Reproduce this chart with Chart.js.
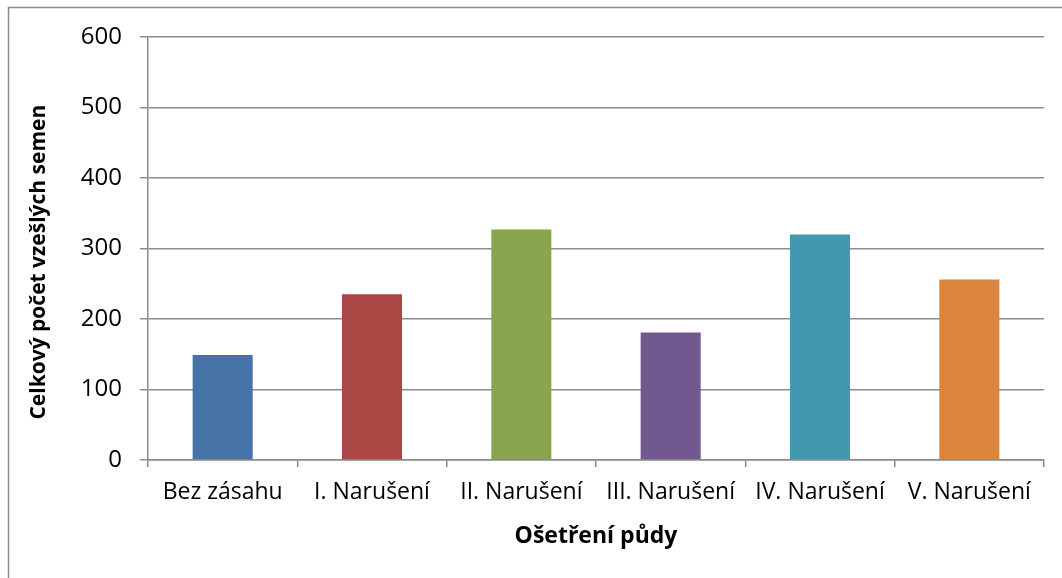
<!DOCTYPE html>
<html>
<head>
<meta charset="utf-8">
<script src="https://cdn.jsdelivr.net/npm/chart.js@4.4.1/dist/chart.umd.min.js"></script>
<style>
    html, body { margin: 0; padding: 0; background: #fff; }
    #wrap { position: relative; width: 1062px; height: 578px; }
</style>
</head>
<body>
<div id="wrap"><canvas id="chart"></canvas></div>
<script>
const categories = ['Bez zásahu', 'I. Narušení', 'II. Narušení', 'III. Narušení', 'IV. Narušení', 'V. Narušení'];
const seedCounts = [149, 235, 327, 181, 320, 256];
const barColors = ['#4572a7', '#aa4643', '#89a54e', '#71588f', '#4198af', '#db843d'];
const yMin = 0;
const yMax = 600;
const yStep = 100;

(function () {
    const axisColor = '#8c8c8c';
    const fontFamily = '"Open Sans", "DejaVu Sans", sans-serif';

    // thin frame round the chart, like the exported picture
    const framePlugin = {
        id: 'frame',
        afterDraw: function (chart) {
            const ctx = chart.ctx;
            ctx.save();
            ctx.strokeStyle = '#8a8a8a';
            ctx.lineWidth = 1.5;
            ctx.beginPath();
            ctx.moveTo(8.5, chart.height);
            ctx.lineTo(8.5, 7.5);
            ctx.lineTo(chart.width, 7.5);
            ctx.stroke();
            ctx.restore();
        }
    };

    new Chart(document.getElementById('chart').getContext('2d'), {
        type: 'bar',
        data: {
            labels: categories.slice(),
            datasets: [
                {
                    label: 'Celkový počet vzešlých semen',
                    data: seedCounts.slice(),
                    backgroundColor: barColors.slice(),
                    borderWidth: 0,
                    barPercentage: 0.402,
                    categoryPercentage: 1
                }
            ]
        },
        options: {
            responsive: true,
            maintainAspectRatio: false,
            animation: false,
            layout: {
                padding: { top: 37, right: 18, bottom: 0, left: 0 }
            },
            plugins: {
                legend: { display: false },
                tooltip: { enabled: false }
            },
            scales: {
                x: {
                    offset: true,
                    grid: {
                        offset: true,
                        drawOnChartArea: false,
                        drawTicks: true,
                        tickLength: 7,
                        color: axisColor,
                        lineWidth: 1.5
                    },
                    border: { color: axisColor, width: 1.5 },
                    ticks: {
                        color: '#000',
                        font: { family: fontFamily, size: 23 },
                        padding: 12,
                        maxRotation: 0,
                        autoSkip: false
                    },
                    title: {
                        display: true,
                        text: 'Ošetření půdy',
                        color: '#000',
                        font: { family: fontFamily, size: 23, weight: 'bold' },
                        padding: { top: 0, bottom: 28 }
                    },
                    afterFit: function (scale) {
                        scale.height = 118;
                    }
                },
                y: {
                    min: yMin,
                    max: yMax,
                    grid: {
                        color: axisColor,
                        lineWidth: 1.5,
                        drawTicks: true,
                        tickLength: 8
                    },
                    border: { color: axisColor, width: 1.5 },
                    ticks: {
                        stepSize: yStep,
                        color: '#000',
                        font: { family: fontFamily, size: 24 },
                        padding: 18
                    },
                    title: {
                        display: true,
                        // trailing no-break spaces nudge the rotated title down a little
                        text: 'Celkový počet vzešlých semen\u00a0\u00a0\u00a0\u00a0\u00a0',
                        color: '#000',
                        font: { family: fontFamily, size: 21, weight: 'bold' },
                        padding: { top: 26, bottom: 0 }
                    },
                    afterFit: function (scale) {
                        scale.width = 148;
                    }
                }
            }
        },
        plugins: [framePlugin]
    });
})();
</script>
</body>
</html>
